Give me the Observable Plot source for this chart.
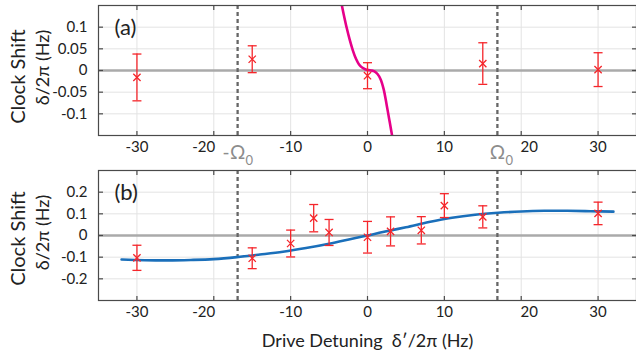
<!DOCTYPE html>
<html>
<head>
<meta charset="utf-8">
<script src="https://cdn.jsdelivr.net/npm/d3@7"></script>
<script src="https://cdn.jsdelivr.net/npm/@observablehq/plot@0.6"></script>
<style>
  html, body { margin: 0; padding: 0; background: #fff; }
  #chart { width: 636px; height: 351px; overflow: hidden; background: #fff; }
  #chart svg { display: block; }
</style>
</head>
<body>
<div id="chart"></div>
<script>
// ---- data ----
const xTicks = [-30, -20, -10, 0, 10, 20, 30];
const xTicksPlain = [-30, -10, 0, 10, 30];
const aYTicks = [-0.1, -0.05, 0, 0.05, 0.1];
const bYTicks = [-0.2, -0.1, 0, 0.1, 0.2];
const omega0 = 16.9;

const aX = [-30, -15, 0, 15, 30];
const aY = [-0.016, 0.026, -0.012, 0.016, 0.002];
const aErr = [0.054, 0.031, 0.030, 0.048, 0.039];

const bX = [-30, -15, -10, -7, -5, 0, 3, 7, 10, 15, 30];
const bY = [-0.103, -0.105, -0.037, 0.080, 0.014, -0.008, 0.019, 0.024, 0.138, 0.086, 0.102];
const bErr = [0.058, 0.048, 0.062, 0.063, 0.060, 0.073, 0.067, 0.063, 0.055, 0.051, 0.052];

const magentaX = [-3.5, -3.1, -2.7, -2.3, -1.9, -1.5, -1.1, -0.7, -0.3, 0.1, 0.5, 0.9, 1.3, 1.7, 2.1, 2.5, 2.8, 3.1, 3.3];
const magentaY = [0.165, 0.13, 0.098, 0.07, 0.046, 0.027, 0.014, 0.007, 0.003, 0.001, 0.0, -0.002, -0.008, -0.02, -0.043, -0.08, -0.11, -0.14, -0.16];

const blueX = [-32, -29, -26, -23, -20, -17, -14, -11, -8, -5, -2, 0, 2, 5, 8, 11, 14, 17, 20, 23, 26, 29, 32];
const blueY = [-0.111, -0.114, -0.115, -0.113, -0.109, -0.100, -0.088, -0.075, -0.058, -0.038, -0.015, 0.0, 0.016, 0.038, 0.062, 0.082, 0.096, 0.105, 0.111, 0.114, 0.114, 0.112, 0.110];

const yLabel1 = "Clock Shift";
const yLabel2 = "δ/2π (Hz)";
const xLabel = "Drive Detuning  δ′/2π (Hz)";

// ---- styling ----
const FONT = "Lato, 'Open Sans', sans-serif";
const RED = "#f5262b";
const AXIS = "#4a4a4a";
const TXT = "#222";

const zip3 = (xs, ys, es) => xs.map((x, i) => ({x, y: ys[i], e: es[i]}));
const zip2 = (xs, ys) => xs.map((x, i) => ({x, y: ys[i]}));

// custom symbols
const capSym = {draw(c, s) { const r = Math.sqrt(s / Math.PI); c.moveTo(-r, 0); c.lineTo(r, 0); }};
const tickUp = {draw(c, s) { const r = Math.sqrt(s / Math.PI); c.moveTo(0, 0); c.lineTo(0, -r); }};
const tickDown = {draw(c, s) { const r = Math.sqrt(s / Math.PI); c.moveTo(0, 0); c.lineTo(0, r); }};
const tickRight = {draw(c, s) { const r = Math.sqrt(s / Math.PI); c.moveTo(0, 0); c.lineTo(r, 0); }};
const tickLeft = {draw(c, s) { const r = Math.sqrt(s / Math.PI); c.moveTo(0, 0); c.lineTo(-r, 0); }};

function panel({height, marginTop, marginBottom, yDomain, yTicks, pts, curve, curveColor, label, omegaLabels, xAxisLabel, yl1dy, yl2dy}) {
  const axX = {tickSize: 0, tickPadding: 6, tickFormat: d => String(d), fontSize: 15, fill: TXT, label: null};
  const marks = [
    Plot.gridX(xTicks, {stroke: "#e3e3e3", strokeOpacity: 1, strokeWidth: 1}),
    Plot.gridY(yTicks, {stroke: "#e3e3e3", strokeOpacity: 1, strokeWidth: 1}),
    Plot.ruleY([0], {stroke: "#aaaaaa", strokeWidth: 2.5}),
    Plot.ruleX([-omega0, omega0], {stroke: "#666666", strokeWidth: 2.3, strokeDasharray: "4,3"}),
    Plot.line(curve, {x: "x", y: "y", stroke: curveColor, strokeWidth: 2.6, curve: "catmull-rom", clip: true}),
    Plot.ruleX(pts, {x: "x", y1: d => d.y - d.e, y2: d => d.y + d.e, stroke: RED, strokeWidth: 1.3}),
    Plot.dot(pts, {x: "x", y: d => d.y - d.e, symbol: capSym, r: 4.5, stroke: RED, fill: "none", strokeWidth: 1.3}),
    Plot.dot(pts, {x: "x", y: d => d.y + d.e, symbol: capSym, r: 4.5, stroke: RED, fill: "none", strokeWidth: 1.3}),
    Plot.dot(pts, {x: "x", y: "y", symbol: "times", r: 3.4, stroke: RED, fill: "none", strokeWidth: 1.3}),
    Plot.frame({stroke: AXIS, strokeWidth: 1.2}),
    Plot.dot(xTicks, {x: d => d, frameAnchor: "bottom", symbol: tickUp, r: 4.5, stroke: AXIS, fill: "none", strokeWidth: 1.2}),
    Plot.dot(xTicks, {x: d => d, frameAnchor: "top", symbol: tickDown, r: 4.5, stroke: AXIS, fill: "none", strokeWidth: 1.2}),
    Plot.dot(yTicks, {y: d => d, frameAnchor: "left", symbol: tickRight, r: 4.5, stroke: AXIS, fill: "none", strokeWidth: 1.2}),
    Plot.dot(yTicks, {y: d => d, frameAnchor: "right", symbol: tickLeft, r: 4.5, stroke: AXIS, fill: "none", strokeWidth: 1.2}),
    Plot.axisX(xTicksPlain, axX),
    Plot.axisX([-20], {...axX, dx: -10}),
    Plot.axisX([20], {...axX, dx: 8}),
    Plot.axisY(yTicks, {tickSize: 0, tickPadding: 11, tickFormat: d => String(d), fontSize: 15, fill: TXT, label: null}),
    Plot.text([label], {frameAnchor: "top-left", dx: 16, dy: 22, fontSize: 22, fill: TXT, textAnchor: "start", lineAnchor: "middle"}),
    Plot.text([yLabel1], {frameAnchor: "left", dx: -80, dy: yl1dy, rotate: -90, fontSize: 20, fill: TXT, textAnchor: "middle", lineAnchor: "middle"}),
    Plot.text([yLabel2], {frameAnchor: "left", dx: -55, dy: yl2dy, rotate: -90, fontSize: 18, fill: TXT, textAnchor: "middle", lineAnchor: "middle"})
  ];
  if (omegaLabels) {
    const om = [-omega0, omega0];
    marks.push(
      Plot.text(om, {x: d => d, text: () => "Ω", frameAnchor: "bottom", dy: 23, lineAnchor: "bottom", textAnchor: "middle", fontSize: 19, fill: "#8c8c8c"}),
      Plot.text([-omega0], {x: d => d, text: () => "-", frameAnchor: "bottom", dy: 23, dx: -8, lineAnchor: "bottom", textAnchor: "end", fontSize: 19, fill: "#8c8c8c"}),
      Plot.text(om, {x: d => d, text: () => "0", frameAnchor: "bottom", dy: 29, dx: 8, lineAnchor: "bottom", textAnchor: "start", fontSize: 13, fill: "#8c8c8c"})
    );
  }
  if (xAxisLabel) {
    marks.push(Plot.text([xAxisLabel], {frameAnchor: "bottom", dy: 46, lineAnchor: "bottom", textAnchor: "middle", fontSize: 18, fill: TXT}));
  }
  return Plot.plot({
    width: 636, height, marginTop, marginBottom, marginLeft: 98, marginRight: 0,
    style: {fontFamily: FONT, background: "white", overflow: "visible"},
    x: {domain: [-35, 35]},
    y: {domain: yDomain},
    marks
  });
}

const chart = document.getElementById("chart");
chart.append(panel({
  height: 160, marginTop: 5, marginBottom: 25,
  yDomain: [-0.15, 0.15], yTicks: aYTicks,
  pts: zip3(aX, aY, aErr), curve: zip2(magentaX, magentaY), curveColor: "#e6008a",
  label: "(a)", omegaLabels: true, yl1dy: 6, yl2dy: -3
}));
chart.append(panel({
  height: 191, marginTop: 10, marginBottom: 51,
  yDomain: [-0.3, 0.3], yTicks: bYTicks,
  pts: zip3(bX, bY, bErr), curve: zip2(blueX, blueY), curveColor: "#1a6fba",
  label: "(b)", omegaLabels: false, xAxisLabel: xLabel, yl1dy: 3, yl2dy: -3
}));
</script>
</body>
</html>
